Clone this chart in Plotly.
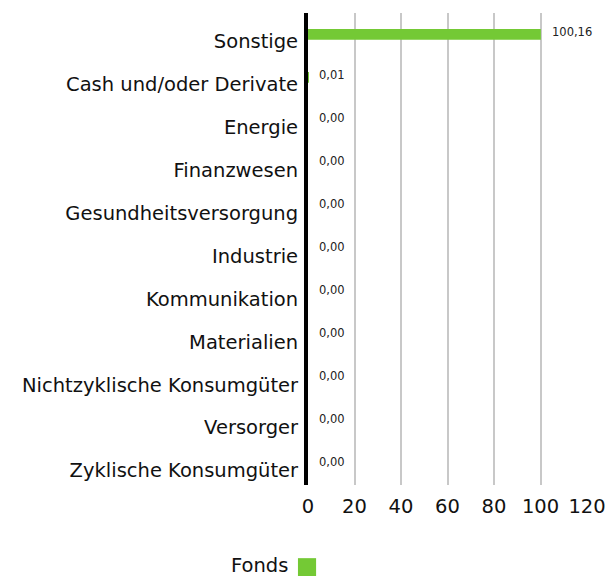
import plotly.graph_objects as go

categories = ["Sonstige", "Cash und/oder Derivate", "Energie", "Finanzwesen",
              "Gesundheitsversorgung", "Industrie", "Kommunikation", "Materialien",
              "Nichtzyklische Konsumgüter", "Versorger", "Zyklische Konsumgüter"]
values = [100.16, 0.01, 0.0, 0.0, 0.0, 0.0, 0.0, 0.0, 0.0, 0.0, 0.0]
value_labels = ["100,16", "0,01", "0,00", "0,00", "0,00", "0,00", "0,00", "0,00", "0,00", "0,00", "0,00"]
series_name = "Fonds"
x_ticks = [0, 20, 40, 60, 80, 100, 120]

FONT = "DejaVu Sans"
GREEN = "#74C935"

fig = go.Figure()
fig.add_trace(go.Bar(
    y=categories, x=values, orientation="h", name=series_name,
    marker=dict(color=GREEN, line=dict(width=0)), width=0.25,
    cliponaxis=False, showlegend=False, hoverinfo="x+y",
))

for cat, v, lab in zip(categories, values, value_labels):
    fig.add_annotation(x=v, y=cat, xref="x", yref="y", text=lab, showarrow=False,
                       xanchor="left", yanchor="middle", xshift=9, yshift=2,
                       font=dict(family=FONT, size=11.5, color="#222"))

fig.update_layout(
    width=608, height=576,
    margin=dict(l=308, r=21, t=13, b=91, autoexpand=False),
    paper_bgcolor="white", plot_bgcolor="white",
    font=dict(family=FONT, color="#111"),
    xaxis=dict(range=[0, 120], tickvals=x_ticks, showgrid=True, gridcolor="#c8c8c8",
               gridwidth=2, zeroline=False, showline=False, automargin=False,
               tickfont=dict(size=19.5, family=FONT, color="#111"), ticks="",
               ticklabelstandoff=7),
    yaxis=dict(autorange="reversed", showline=True, linecolor="black", linewidth=4,
               showgrid=False, ticks="", automargin=False,
               tickfont=dict(size=19.5, family=FONT, color="#111"),
               ticklabelstandoff=2, ticklabelshift=-7),
)

fig.add_annotation(x=-0.0645, y=-0.170, xref="paper", yref="paper",
                   xanchor="right", yanchor="middle",
                   text=series_name, showarrow=False,
                   font=dict(size=19.5, family=FONT, color="#111"))
fig.add_shape(type="rect", xref="paper", yref="paper",
              x0=-0.036, x1=0.029, y0=-0.193, y1=-0.155,
              fillcolor=GREEN, line=dict(width=0))

fig.write_html("out.html", config={"displayModeBar": False},
               post_script="document.body.style.margin='0';document.body.style.padding='0';")
